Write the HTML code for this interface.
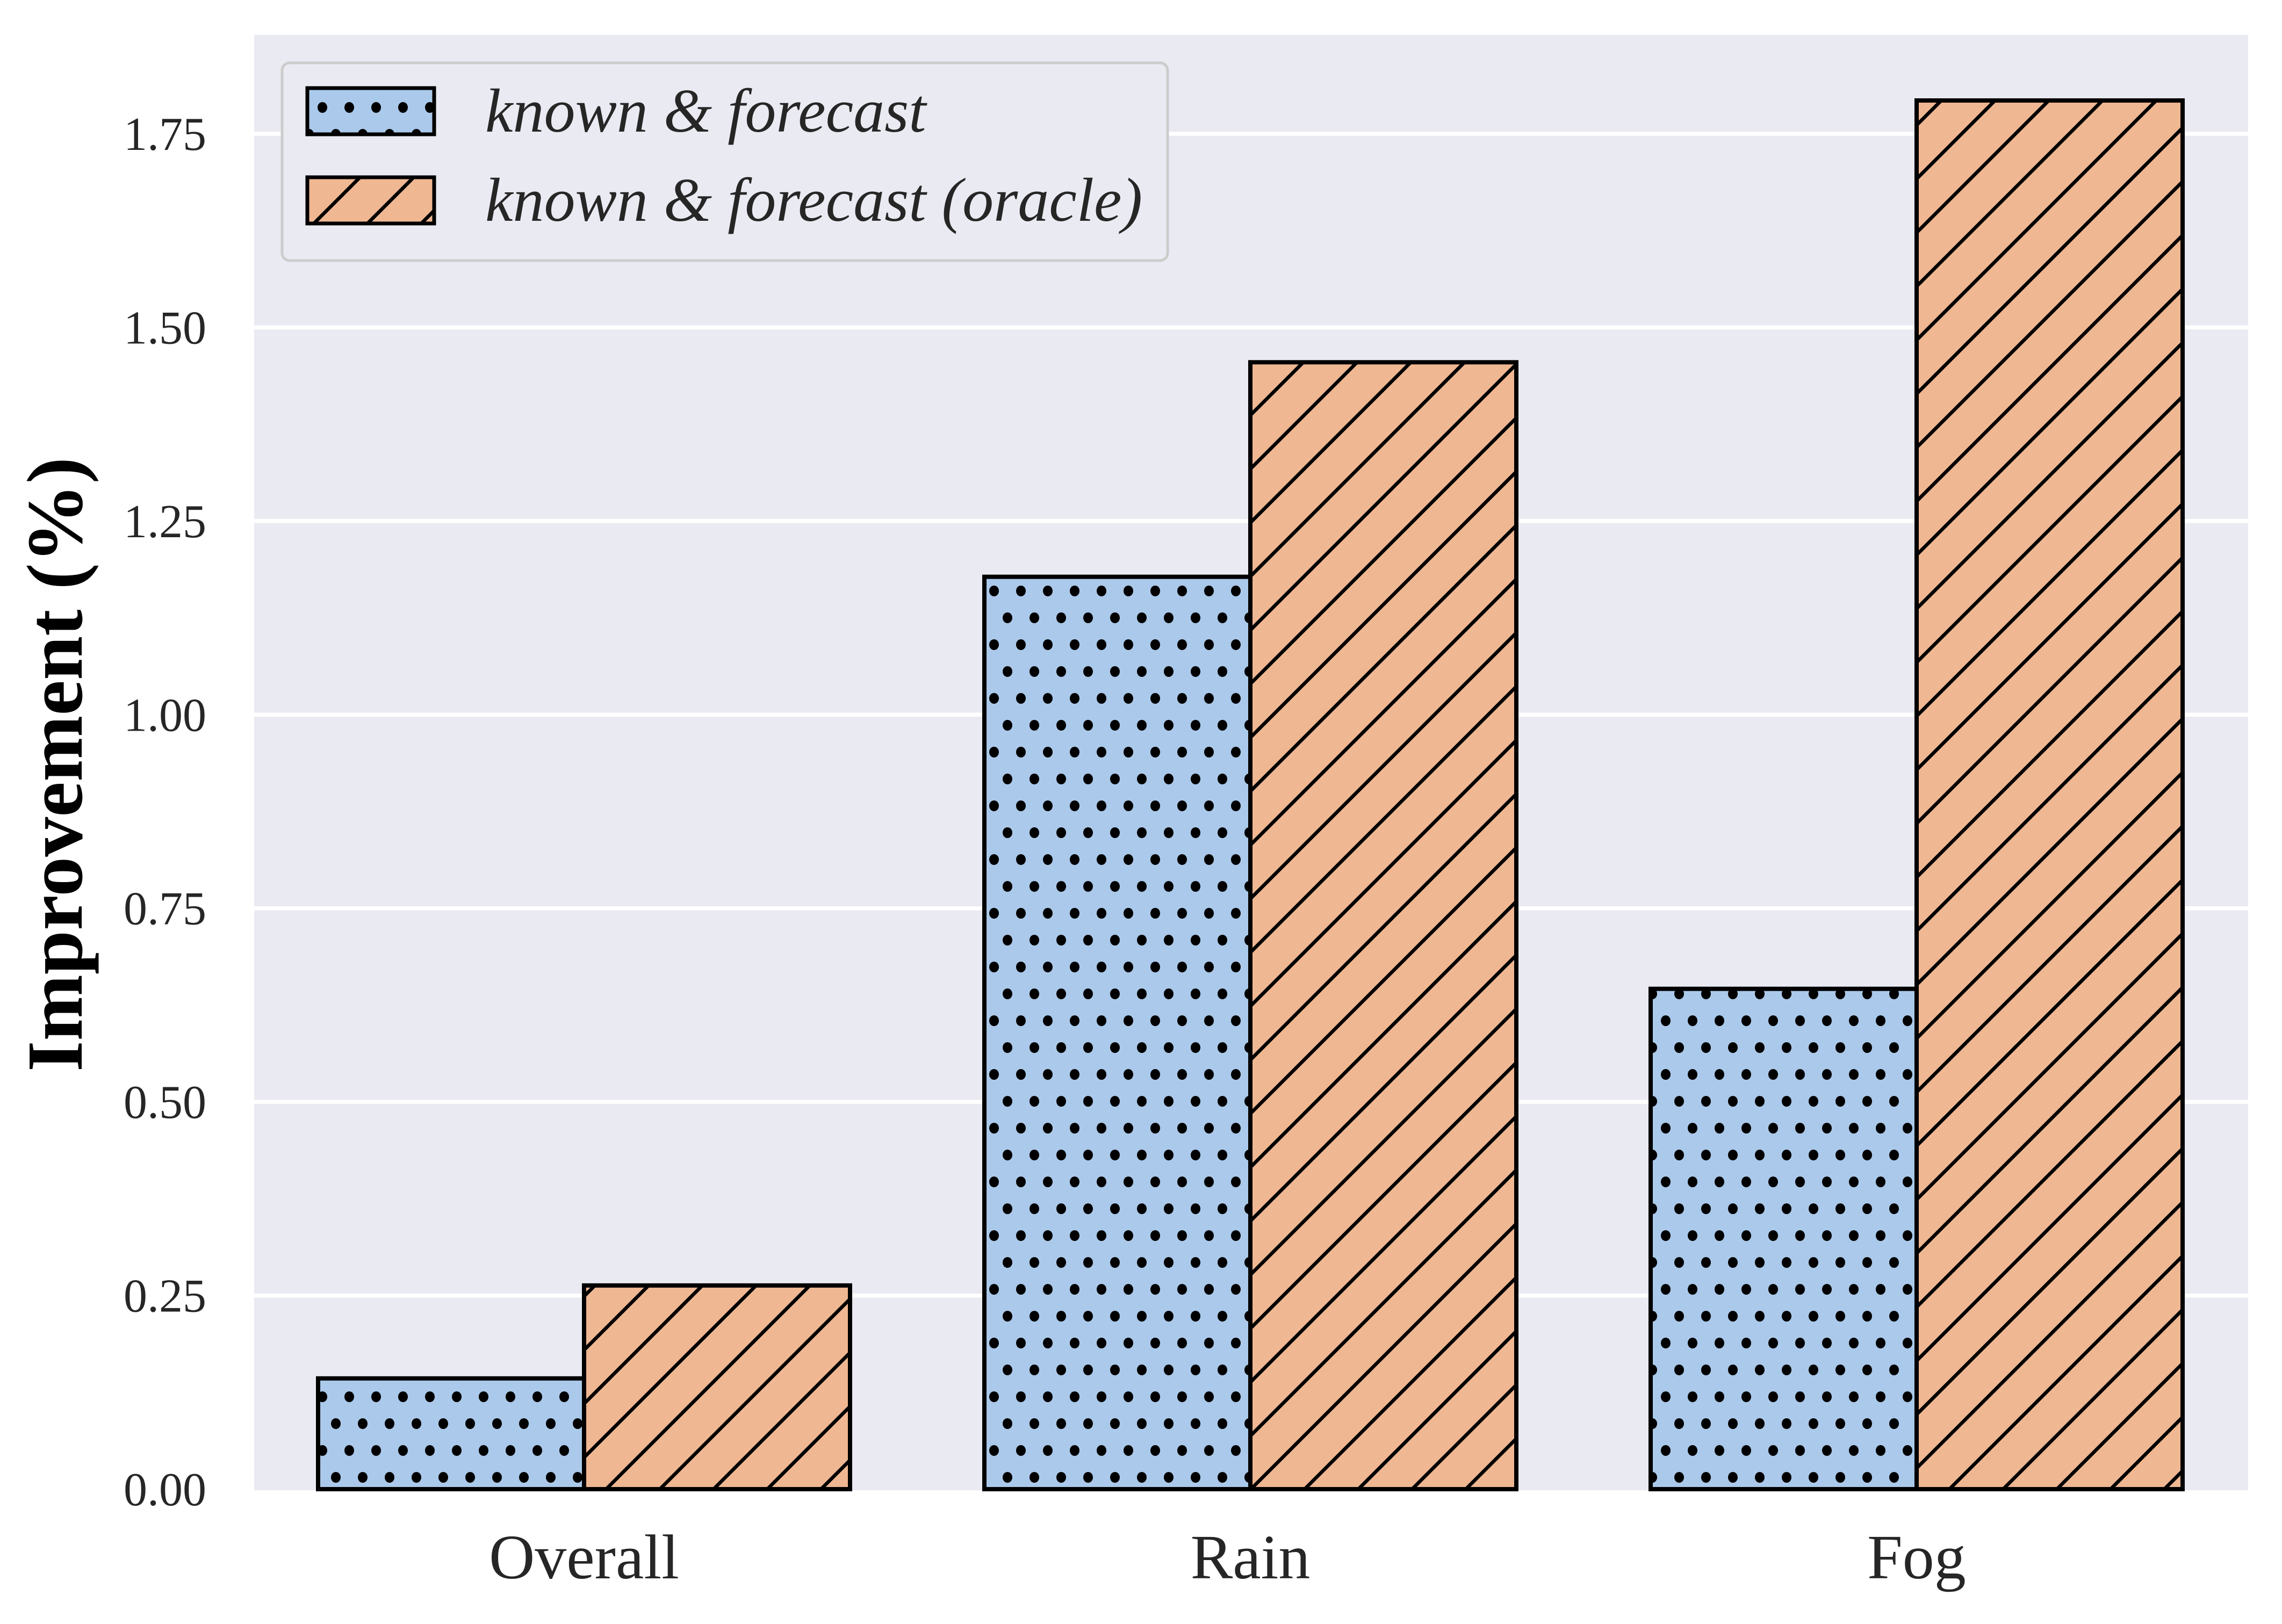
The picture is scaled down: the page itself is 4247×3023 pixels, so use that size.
<!DOCTYPE html>
<html><head><meta charset="utf-8"><style>
html,body{margin:0;padding:0;background:#fff;}
svg{display:block;font-family:"Liberation Serif",serif;}
</style></head><body>
<svg id="chart" width="4247" height="3023" viewBox="0 0 4247 3023" xmlns="http://www.w3.org/2000/svg">
<defs>
<pattern id="dots" patternUnits="userSpaceOnUse" x="0" y="0" width="50" height="100">
<ellipse cx="0" cy="0" rx="9" ry="10" fill="#000"/><ellipse cx="50" cy="0" rx="9" ry="10" fill="#000"/>
<ellipse cx="0" cy="100" rx="9" ry="10" fill="#000"/><ellipse cx="50" cy="100" rx="9" ry="10" fill="#000"/>
<ellipse cx="25" cy="50" rx="9" ry="10" fill="#000"/>
</pattern>
</defs>
<rect x="473" y="65" width="3711" height="2709" fill="#eaeaf2"/>
<g id="grid"></g>
<g id="bars"></g>
<g id="yticks"></g>
<g id="xticks"></g>
<text transform="translate(152,1423) rotate(-90)" text-anchor="middle" font-size="148" font-weight="bold" fill="#000">Improvement (%)</text>
<g id="legend">
<rect x="525" y="117" width="1648" height="368" rx="14" fill="#eaeaf2" stroke="#cccccc" stroke-width="5"/>
<g id="leg1">
<text x="903" y="245" font-size="116" font-style="italic" fill="#262626">known &amp; forecast</text>
</g>
<g id="leg2">
<text x="903" y="411" font-size="116" font-style="italic" fill="#262626">known &amp; forecast (oracle)</text>
</g>
</g>
</svg>
<script>
const categories = ["Overall", "Rain", "Fog"];
const seriesKnown = [0.143, 1.178, 0.646];
const seriesOracle = [0.263, 1.455, 1.793];
const yTicks = [0, 0.25, 0.5, 0.75, 1.0, 1.25, 1.5, 1.75];
const yTickLabels = ["0.00","0.25","0.50","0.75","1.00","1.25","1.50","1.75"];

const NS = "http://www.w3.org/2000/svg";
const Y0 = 2772, PX_PER_UNIT = 1441.7;
const X0 = 1087, GROUP_STEP = 1240, BAR_W = 495;
function yScale(v){ return Y0 - v*PX_PER_UNIT; }
function xCenter(i){ return X0 + i*GROUP_STEP; }
function mk(tag, attrs){ const e=document.createElementNS(NS,tag); for(const k in attrs) e.setAttribute(k,attrs[k]); return e; }
let clipId=0;
function hatchRect(parent,x,y,w,h,fill,kind,sw){
  parent.appendChild(mk('rect',{x:x,y:y,width:w,height:h,fill:fill}));
  if(kind==='dots'){
    parent.appendChild(mk('rect',{x:x,y:y,width:w,height:h,fill:'url(#dots)'}));
  } else {
    const id='clip'+(clipId++);
    const cp=mk('clipPath',{id:id}); cp.appendChild(mk('rect',{x:x,y:y,width:w,height:h}));
    document.querySelector('defs').appendChild(cp);
    const g=mk('g',{'clip-path':'url(#'+id+')'});
    const cmin=Math.floor((x+y)/100)*100, cmax=x+w+y+h+100;
    let d='';
    for(let c=cmin;c<=cmax;c+=100){ d+='M'+(c-(y+h+20))+','+(y+h+20)+'L'+(c-(y-20))+','+(y-20); }
    g.appendChild(mk('path',{d:d,stroke:'#000','stroke-width':6.5,fill:'none'}));
    parent.appendChild(g);
  }
  parent.appendChild(mk('rect',{x:x,y:y,width:w,height:h,fill:'none',stroke:'#000','stroke-width':sw}));
}

const grid=document.getElementById('grid');
const yt=document.getElementById('yticks');
yTicks.forEach((v,i)=>{
  const y=yScale(v);
  if(v>0){
    const l=mk('line',{x1:473,x2:4184,y1:y,y2:y,stroke:'#fff','stroke-width':7.5});
    
    
    grid.appendChild(l);
  }
  const t=mk('text',{x:384,y:y+30,'text-anchor':'end','font-size':88,fill:'#262626'});
  t.textContent=yTickLabels[i];
  
  
  yt.appendChild(t);
});

const bars=document.getElementById('bars');
const xt=document.getElementById('xticks');
categories.forEach((c,i)=>{
  const cx=xCenter(i);
  [[seriesKnown,'#abc9ea','dots',cx-BAR_W,'known'],[seriesOracle,'#efb792','hatch',cx,'oracle']].forEach(s=>{
    const v=s[0][i], top=yScale(v), h=Y0-top;
    const g=mk('g',{});
    
    
    hatchRect(g,s[3],top,BAR_W,h,s[1],s[2],8);
    bars.appendChild(g);
  });
  const t=mk('text',{x:cx,y:2938,'text-anchor':'middle','font-size':118,fill:'#262626'});
  t.textContent=c;
  
  
  xt.appendChild(t);
});
const leg1=document.getElementById('leg1'), leg2=document.getElementById('leg2');
const p1=mk('g',{}); hatchRect(p1,572,164,236,86,'#abc9ea','dots',7); leg1.insertBefore(p1,leg1.firstChild);
const p2=mk('g',{}); hatchRect(p2,572,330,236,86,'#efb792','hatch',7); leg2.insertBefore(p2,leg2.firstChild);
</script>
</body></html>
